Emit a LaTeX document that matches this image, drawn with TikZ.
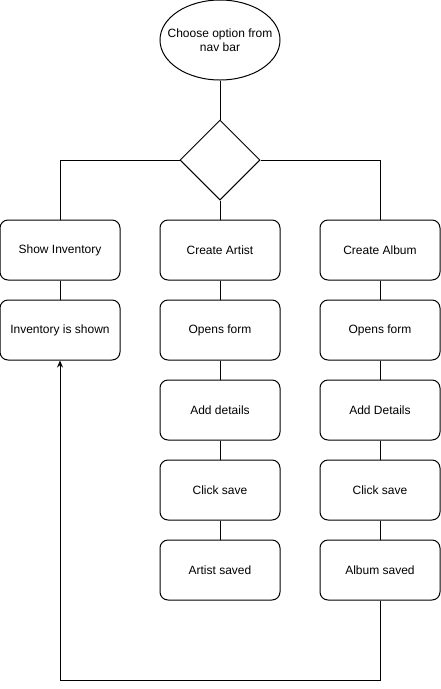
\documentclass[tikz,border=0pt]{standalone}
\usepackage{fontspec}
\setmainfont{Liberation Sans}
\usepackage{tikz}
\usetikzlibrary{shapes.geometric,arrows.meta}

\begin{document}
\begin{tikzpicture}[x=1pt,y=-1pt,line width=1pt,
  every node/.style={font=\fontsize{12}{14}\selectfont},
  start/.style={draw,ellipse,minimum width=120pt,minimum height=80pt,inner sep=0pt},
  choice/.style={draw,diamond,minimum width=80pt,minimum height=80pt,inner sep=0pt},
  box/.style={draw,rounded corners=8pt,minimum width=120pt,minimum height=60pt,inner sep=0pt}]
\useasboundingbox (0,0) rectangle (441,689);
\node[start,label={[align=center]center:Choose option from\\nav bar}] (navbar) at (220,40) {};
\node[choice] (pick) at (220,160) {};
\node[box] (showinv) at (60,250) {Show Inventory};
\node[box] (invshown) at (60,330) {Inventory is shown};
\node[box] (newartist) at (220,250) {Create Artist};
\node[box] (artform) at (220,330) {Opens form};
\node[box] (artdetails) at (220,410) {Add details};
\node[box] (artsave) at (220,490) {Click save};
\node[box] (artsaved) at (220,570) {Artist saved};
\node[box] (newalbum) at (380,250) {Create Album};
\node[box] (albform) at (380,330) {Opens form};
\node[box] (albdetails) at (380,410) {Add Details};
\node[box] (albsave) at (380,490) {Click save};
\node[box] (albsaved) at (380,570) {Album saved};
\coordinate (back) at (60,680);
\draw (navbar) -- (pick);
\draw (pick.west) -| (showinv);
\draw (pick) -- (newartist);
\draw (pick.east) -| (newalbum);
\draw (showinv) -- (invshown);
\draw (newartist) -- (artform) -- (artdetails) -- (artsave) -- (artsaved);
\draw (newalbum) -- (albform) -- (albdetails) -- (albsave) -- (albsaved);
\draw[-{Stealth[length=7pt,width=6pt]}] (albsaved) |- (back) -- (invshown);
\end{tikzpicture}
\end{document}
